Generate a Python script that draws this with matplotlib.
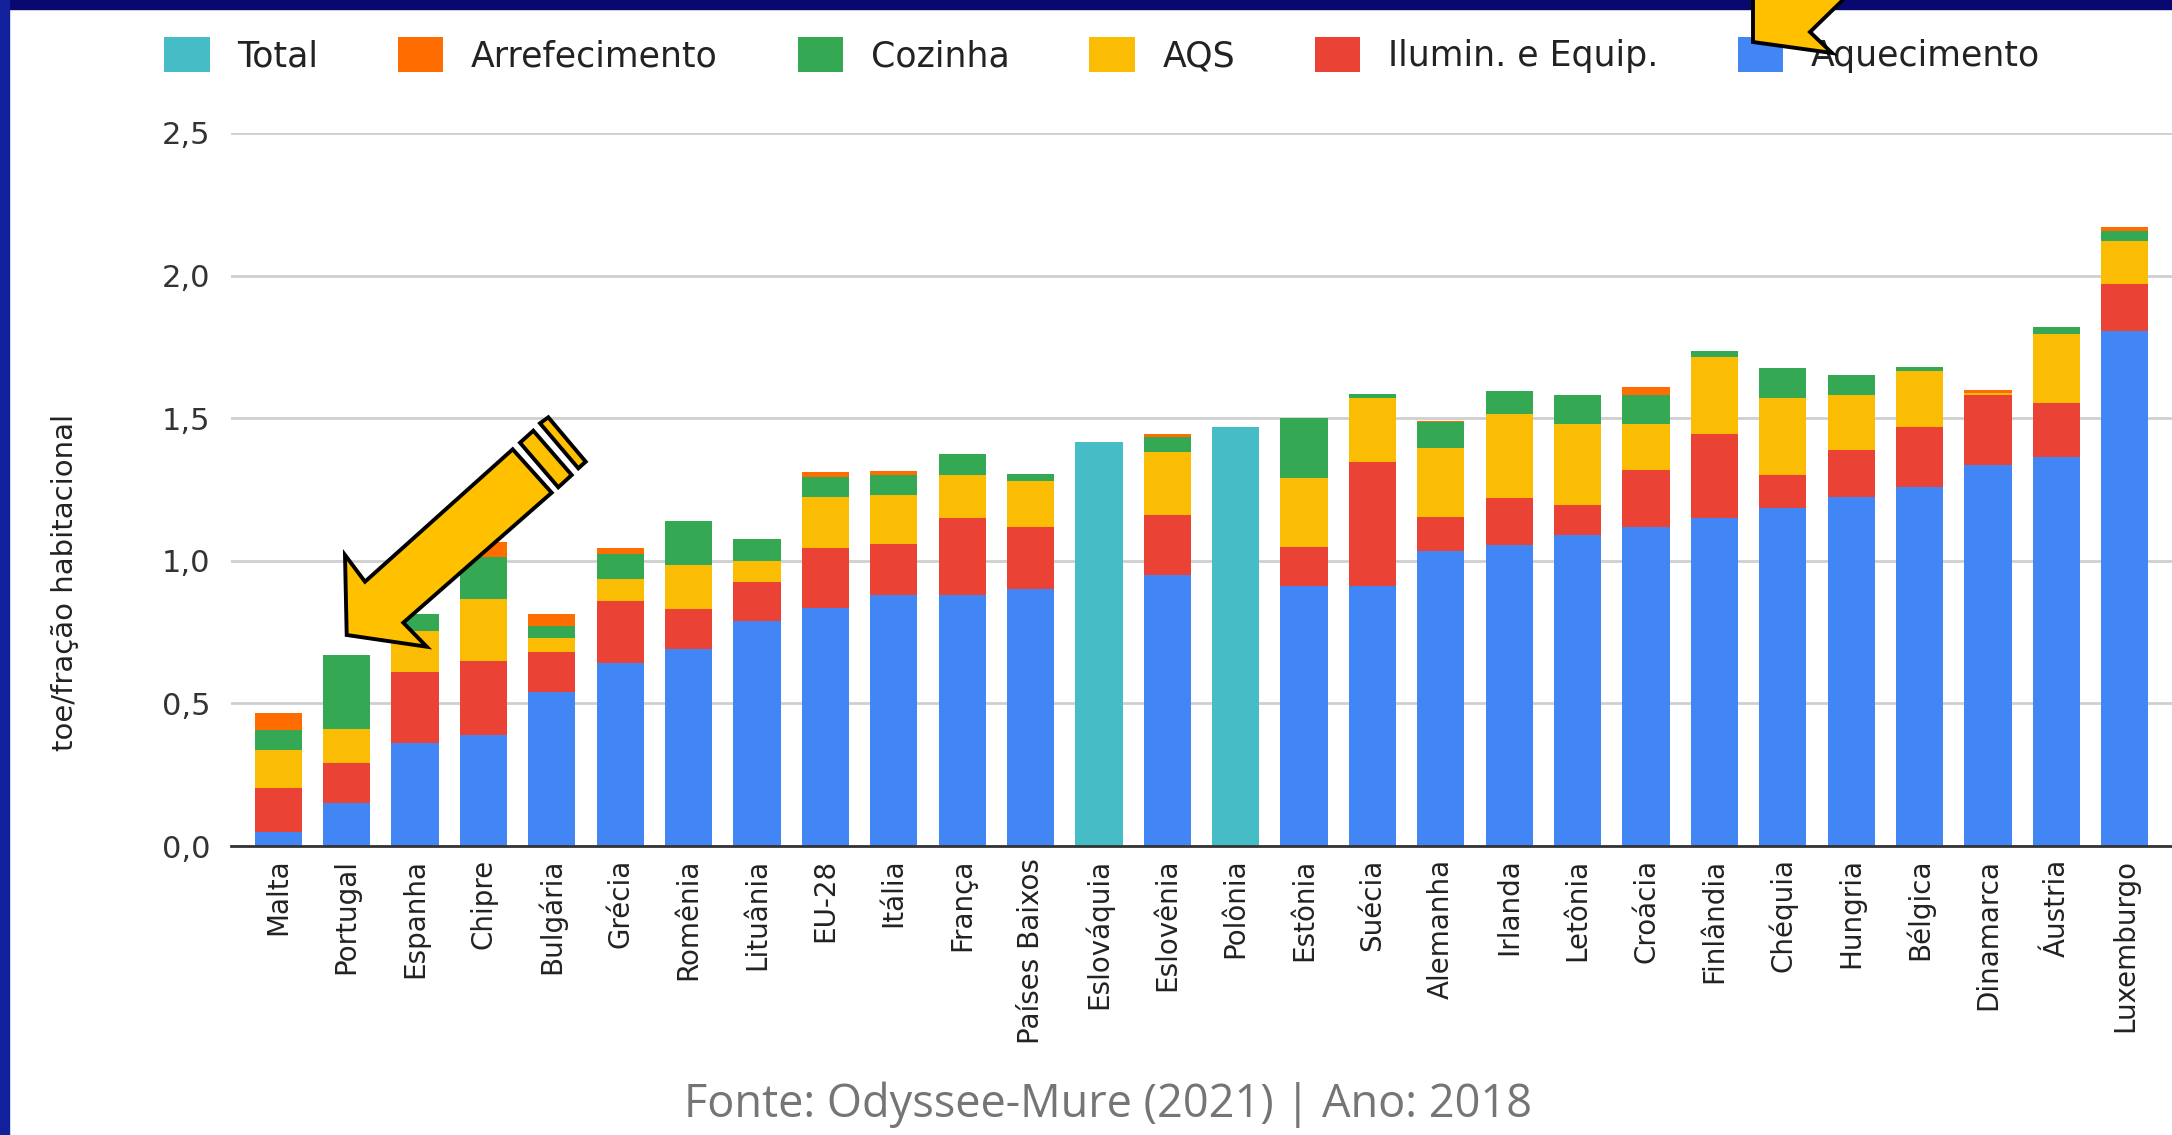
import numpy as np
import matplotlib
matplotlib.use('Agg')
import matplotlib.pyplot as plt
from matplotlib.patches import Polygon, Rectangle

# values (toe / fração habitacional, 2018)
countries = ['Malta', 'Portugal', 'Espanha', 'Chipre', 'Bulgária', 'Grécia', 'Romênia',
             'Lituânia', 'EU-28', 'Itália', 'França', 'Países Baixos', 'Eslováquia',
             'Eslovênia', 'Polônia', 'Estônia', 'Suécia', 'Alemanha', 'Irlanda', 'Letônia',
             'Croácia', 'Finlândia', 'Chéquia', 'Hungria', 'Bélgica', 'Dinamarca',
             'Áustria', 'Luxemburgo']
aquecimento = [0.05, 0.15, 0.36, 0.39, 0.54, 0.64, 0.69, 0.79, 0.835, 0.88, 0.88, 0.90, 0,
               0.95, 0, 0.91, 0.91, 1.035, 1.055, 1.09, 1.12, 1.15, 1.185, 1.225, 1.26,
               1.335, 1.365, 1.805]
ilumin = [0.155, 0.14, 0.25, 0.26, 0.14, 0.22, 0.14, 0.135, 0.21, 0.18, 0.27, 0.22, 0,
          0.21, 0, 0.14, 0.435, 0.12, 0.165, 0.105, 0.20, 0.295, 0.115, 0.165, 0.21,
          0.245, 0.19, 0.165]
aqs = [0.13, 0.12, 0.145, 0.215, 0.05, 0.075, 0.155, 0.075, 0.18, 0.17, 0.15, 0.16, 0,
       0.22, 0, 0.24, 0.225, 0.24, 0.295, 0.285, 0.16, 0.27, 0.27, 0.19, 0.195, 0.01,
       0.24, 0.15]
cozinha = [0.07, 0.26, 0.06, 0.15, 0.04, 0.09, 0.155, 0.075, 0.07, 0.07, 0.075, 0.025, 0,
           0.055, 0, 0.21, 0.015, 0.09, 0.08, 0.10, 0.10, 0.02, 0.105, 0.07, 0.015, 0.0,
           0.025, 0.035]
arrefecimento = [0.06, 0, 0, 0.05, 0.045, 0.02, 0, 0, 0.015, 0.015, 0, 0, 0, 0.01, 0, 0,
                 0, 0.005, 0, 0, 0.03, 0, 0, 0, 0, 0.01, 0, 0.015]
total = [np.nan] * 12 + [1.415, np.nan, 1.468] + [np.nan] * 13

W, H = 2172, 1135
fig = plt.figure(figsize=(W / 100, H / 100), dpi=100)
fig.patch.set_facecolor('white')
ax = fig.add_axes([231 / W, 289 / H, 1941 / W, 713 / H])

x = np.arange(len(countries))
bw = 0.69
stack = [('Aquecimento', aquecimento, '#4285F4'),
         ('Ilumin. e Equip.', ilumin, '#EA4335'),
         ('AQS', aqs, '#FBBC04'),
         ('Cozinha', cozinha, '#34A853'),
         ('Arrefecimento', arrefecimento, '#FF6D01')]
handles = {}
bottom = np.zeros(len(countries))
for name, vals, col in stack:
    vals = np.array(vals)
    handles[name] = ax.bar(x, vals, bw, bottom=bottom, color=col, linewidth=0, label=name)
    bottom += vals
handles['Total'] = ax.bar(x, total, bw, color='#46BDC6', linewidth=0, label='Total')

ax.set_xlim(-0.69, 27.69)
ax.set_ylim(0, 2.5)
yt = [0, 0.5, 1.0, 1.5, 2.0, 2.5]
ax.set_yticks(yt)
ax.set_yticklabels([f'{v:.1f}'.replace('.', ',') for v in yt], fontsize=22, color='#333333')
ax.set_xticks(x)
ax.set_xticklabels(countries, rotation=90, fontsize=20, color='#222222', va='top')
ax.tick_params(axis='both', length=0)
ax.tick_params(axis='y', pad=15)
ax.tick_params(axis='x', pad=9)
ax.grid(axis='y', color='#cfcfcf', linewidth=2)
ax.set_axisbelow(True)
for s in ['top', 'right', 'left']:
    ax.spines[s].set_visible(False)
ax.spines['bottom'].set_color('#333333')
ax.spines['bottom'].set_linewidth(2)
ax.spines['bottom'].set_zorder(5)

order = ['Total', 'Arrefecimento', 'Cozinha', 'AQS', 'Ilumin. e Equip.', 'Aquecimento']
fig.legend([handles[k] for k in order], order, loc='center', bbox_to_anchor=(0.5075, 0.9515),
           ncol=6, frameon=False, fontsize=25, handlelength=1.3, handleheight=1.15,
           handletextpad=0.8, columnspacing=2.3, labelcolor='#222222')

fig.text(0.0300, 0.487, 'toe/fração habitacional', rotation=90, ha='center', va='center',
         fontsize=21, color='#222222')
fig.text(0.5100, 0.027, 'Fonte: Odyssee-Mure (2021) | Ano: 2018', ha='center', va='center',
         fontsize=32.5, color='#757575', family='Open Sans')


def px(pts):
    return [(a / W, 1 - b / H) for a, b in pts]


# navy frame
fig.add_artist(Rectangle((0, 1 - 9 / H), 1, 9 / H, transform=fig.transFigure,
                         color='#08086e', zorder=10))
fig.add_artist(Rectangle((0, 0), 9 / W, 1, transform=fig.transFigure,
                         color='#12209c', zorder=10))

# yellow arrows drawn over the chart
yel = '#FFC000'
arrow = [(346.7, 635), (345, 555), (365, 581.7), (512.7, 449.3), (551.7, 492.7),
         (403.3, 622.7), (426.7, 646.7)]
stripe1 = [(520, 442.7), (533.3, 430.7), (571.7, 475), (558.3, 487.3)]
stripe2 = [(540, 423.3), (548.3, 417.3), (585.7, 461.7), (578.3, 468.3)]
top_arrow = [(1753, -5), (1753, 42), (1832, 53), (1810, 32), (1848, -5)]
for poly in [arrow, stripe1, stripe2, top_arrow]:
    fig.add_artist(Polygon(px(poly), closed=True, transform=fig.transFigure,
                           facecolor=yel, edgecolor='black', linewidth=2.8,
                           joinstyle='miter', zorder=11))

fig.savefig('out.png', dpi=100)
